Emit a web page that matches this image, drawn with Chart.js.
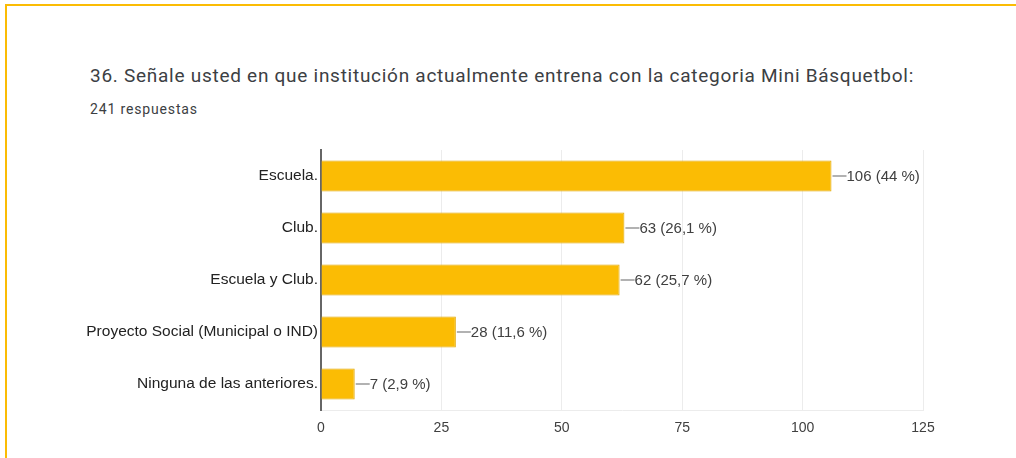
<!DOCTYPE html>
<html>
<head>
<meta charset="utf-8">
<script src="https://cdn.jsdelivr.net/npm/chart.js@4"></script>
<style>
  html, body { margin: 0; padding: 0; background: #fff; }
  body { width: 1016px; height: 458px; position: relative; overflow: hidden; }
  #frame {
    position: absolute; left: 5px; top: 4px; width: 1030px; height: 480px;
    border-top: 2px solid #fbbc04; border-left: 2px solid #fbbc04;
  }
  #title {
    position: absolute; left: 90px; top: 64px;
    font-family: Roboto, "Open Sans", sans-serif; font-size: 19px; color: #3c4043;
    letter-spacing: 0.73px; white-space: nowrap;
  }
  #sub {
    position: absolute; left: 90px; top: 101px;
    font-family: Roboto, sans-serif; font-size: 14px; color: #3c4043;
    letter-spacing: 0.85px;
  }
  #wrap { position: absolute; left: 0; top: 0; width: 1016px; height: 458px; }
</style>
</head>
<body>
<div id="frame"></div>
<div id="title">36. Señale usted en que institución actualmente entrena con la categoria Mini Básquetbol:</div>
<div id="sub">241 respuestas</div>
<div id="wrap"><canvas id="chart"></canvas></div>
<script>
const categories = [
  'Escuela.',
  'Club.',
  'Escuela y Club.',
  'Proyecto Social (Municipal o IND)',
  'Ninguna de las anteriores.'
];
const counts = [106, 63, 62, 28, 7];
const percents = ['44 %', '26,1 %', '25,7 %', '11,6 %', '2,9 %'];
const xTicks = [0, 25, 50, 75, 100, 125];

// draws "—106 (44 %)" next to each bar
const valueLabels = {
  id: 'valueLabels',
  afterDatasetsDraw(chart) {
    const ctx = chart.ctx;
    const meta = chart.getDatasetMeta(0);
    ctx.save();
    ctx.font = '15px Arial, "Liberation Sans", sans-serif';
    ctx.textBaseline = 'middle';
    ctx.textAlign = 'left';
    meta.data.forEach((bar, i) => {
      ctx.strokeStyle = '#999';
      ctx.lineWidth = 1.5;
      ctx.beginPath();
      ctx.moveTo(bar.x + 1, bar.y);
      ctx.lineTo(bar.x + 15, bar.y);
      ctx.stroke();
      ctx.fillStyle = '#404040';
      ctx.fillText(counts[i] + ' (' + percents[i] + ')', bar.x + 15, bar.y + 1);
    });
    ctx.restore();
  }
};

new Chart(document.getElementById('chart'), {
  type: 'bar',
  data: {
    labels: categories,
    datasets: [{
      data: counts,
      backgroundColor: '#fbbc04',
      borderColor: '#e0a600',
      borderWidth: 1,
      barPercentage: 0.6,
      categoryPercentage: 1
    }]
  },
  options: {
    indexAxis: 'y',
    responsive: true,
    maintainAspectRatio: false,
    animation: false,
    layout: { padding: { top: 150, right: 93, left: 0, bottom: 0 } },
    plugins: { legend: { display: false }, tooltip: { enabled: false } },
    scales: {
      x: {
        min: 0, max: 125,
        afterBuildTicks(scale) { scale.ticks = xTicks.map(v => ({ value: v })); },
        afterFit(scale) { scale.height = 48; },
        grid: {
          drawTicks: false,
          color: ctx => ctx.tick && ctx.tick.value === 0 ? 'rgba(0,0,0,0)' : '#ececec'
        },
        border: { color: '#ececec', width: 1 },
        ticks: { padding: 10, color: '#404040', font: { family: 'Arial, "Liberation Sans"', size: 14 } }
      },
      y: {
        afterFit(scale) { scale.width = 321; },
        grid: { display: false, drawTicks: false },
        border: { color: '#666', width: 2 },
        ticks: { padding: 3, color: '#222', font: { family: 'Arial, "Liberation Sans"', size: 15.5 } }
      }
    }
  },
  plugins: [valueLabels]
});
</script>
</body>
</html>
